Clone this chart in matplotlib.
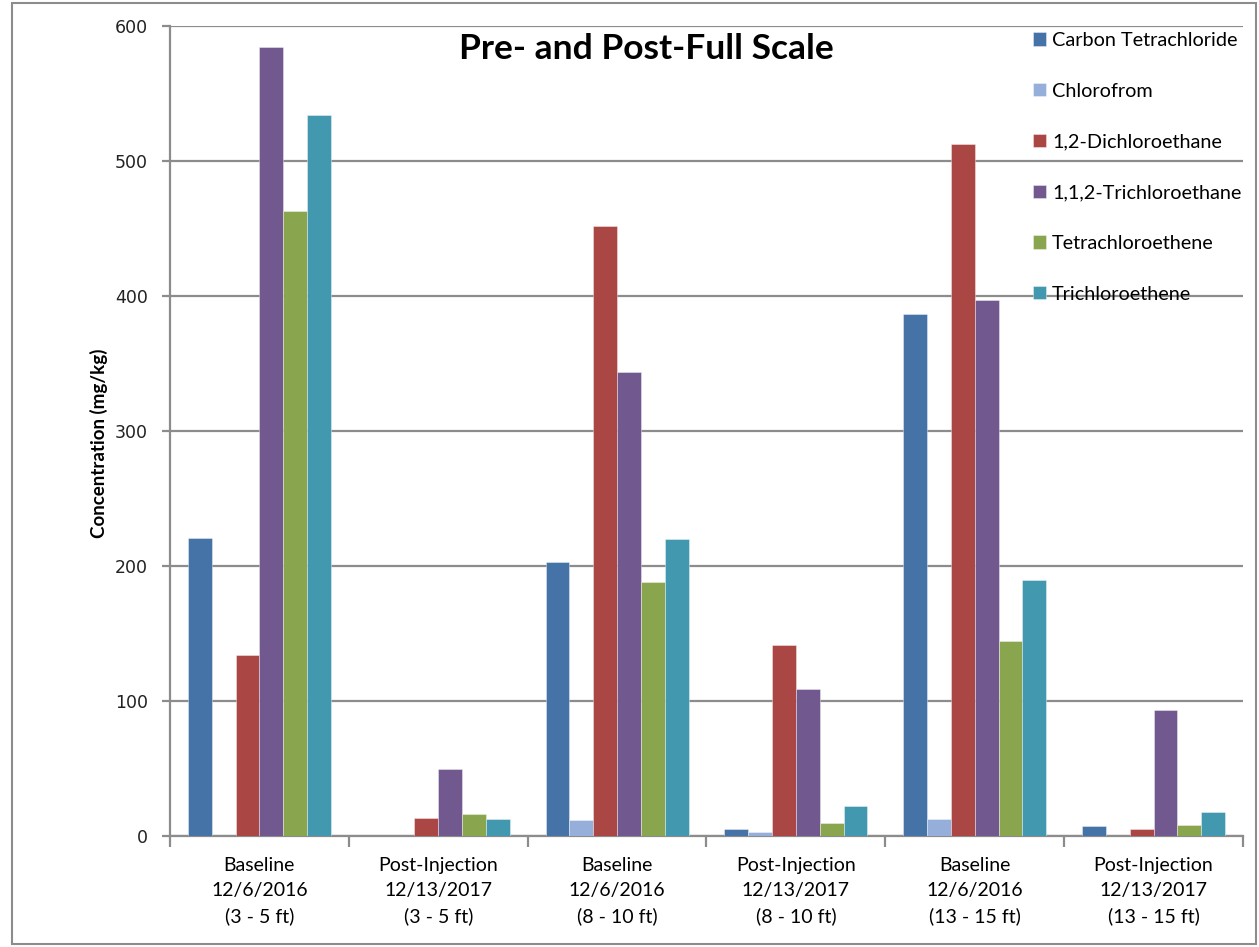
import numpy as np
import matplotlib
matplotlib.use("Agg")
import matplotlib.pyplot as plt
from matplotlib.patches import Rectangle

# sample groups along the x axis
groups = [
    "Baseline\n12/6/2016\n(3 - 5 ft)",
    "Post-Injection\n12/13/2017\n(3 - 5 ft)",
    "Baseline\n12/6/2016\n(8 - 10 ft)",
    "Post-Injection\n12/13/2017\n(8 - 10 ft)",
    "Baseline\n12/6/2016\n(13 - 15 ft)",
    "Post-Injection\n12/13/2017\n(13 - 15 ft)",
]

# concentrations in mg/kg, one list per compound
carbon_tet = [221, 0, 203, 5.2, 387, 7.4]
chloroform = [0, 0, 12.3, 3.4, 12.8, 0]
dichloroethane = [134, 13.8, 452, 141.5, 513, 5.2]
trichloroethane = [585, 49.8, 344, 109, 397, 93.6]
tetrachloroethene = [463, 16.7, 188, 9.9, 145, 8.4]
trichloroethene = [534, 13, 220, 22.4, 190, 17.8]

series_names = ["Carbon Tetrachloride", "Chlorofrom", "1,2-Dichloroethane",
                "1,1,2-Trichloroethane", "Tetrachloroethene", "Trichloroethene"]
series_vals = [carbon_tet, chloroform, dichloroethane,
               trichloroethane, tetrachloroethene, trichloroethene]
colors = ["#4572A7", "#95AEDA", "#AA4643", "#71588F", "#89A54E", "#4198AF"]

W, H = 1259, 947
fig = plt.figure(figsize=(W / 100, H / 100), dpi=100)
ax = fig.add_axes([170 / W, (H - 836.3) / H, (1243 - 170) / W, (836.3 - 26.3) / H])

n = len(series_vals)
bw = 1 / 7.5  # gap width 150%
x = np.arange(len(groups))
for i, (name, vals, c) in enumerate(zip(series_names, series_vals, colors)):
    offs = (i - (n - 1) / 2) * bw
    ax.bar(x + offs, vals, width=bw, color=c, label=name,
           edgecolor=(1, 1, 1, 0.45), linewidth=0.6, zorder=3)

grid_c = "#8c8c8c"
ax.set_xlim(-0.5, len(groups) - 0.5)
ax.set_ylim(0, 600)
ax.set_yticks(np.arange(0, 601, 100))
ax.yaxis.grid(True, color=grid_c, linewidth=1.6, zorder=0)
ax.set_axisbelow(True)

for s in ["top", "right"]:
    ax.spines[s].set_visible(False)
for s in ["left", "bottom"]:
    ax.spines[s].set_color(grid_c)
    ax.spines[s].set_linewidth(1.6)

ax.set_xticks(x)
ax.set_xticklabels(groups, fontsize=14, family="Lato", linespacing=1.55)
ax.set_xticks(np.arange(-0.5, len(groups), 1), minor=True)
ax.tick_params(axis="x", which="major", length=0, pad=15)
ax.tick_params(axis="x", which="minor", length=8, width=1.6, color=grid_c)
ax.tick_params(axis="y", length=6, width=1.6, color=grid_c, labelsize=12.5, pad=10)
for lbl in ax.get_yticklabels():
    lbl.set_family("DejaVu Sans")
    lbl.set_color("#222222")

ax.set_ylabel("Concentration (mg/kg)", fontsize=13.5, fontweight="bold",
              family="Lato")
ax.yaxis.set_label_coords(-62 / (1243 - 170), 0.485)

fig.text(646 / W, 1 - 49 / H, "Pre- and Post-Full Scale", ha="center", va="center",
         fontsize=25.5, fontweight="bold", family="Lato")

ax.legend(loc="upper left", bbox_to_anchor=(1033 / W, 1 - 32 / H),
          bbox_transform=fig.transFigure, frameon=False,
          prop={"family": "Lato", "size": 14.3},
          handlelength=0.65, handleheight=0.65, handletextpad=0.3, labelspacing=1.7,
          borderpad=0, borderaxespad=0)

# outer chart border
fig.patches.append(Rectangle((12 / W, 3 / H), (1256 - 12) / W, (944 - 3) / H,
                             transform=fig.transFigure, fill=False,
                             edgecolor="#8c8c8c", linewidth=1.5))

fig.savefig("out.png", dpi=100)
plt.close(fig)
